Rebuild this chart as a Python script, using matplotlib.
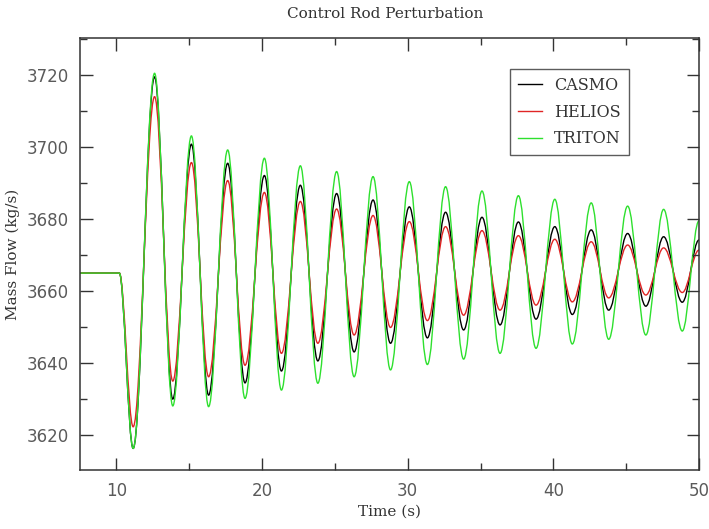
import matplotlib
matplotlib.use("Agg")
import matplotlib.pyplot as plt
from matplotlib.path import Path
from matplotlib.patches import PathPatch
from matplotlib.lines import Line2D
from matplotlib.ticker import MultipleLocator

# ---- data (turning points of each trace) ----
time_s = [7.5, 10.2, 11.15, 12.62, 13.87, 15.15, 16.33, 17.64, 18.83, 20.16,
          21.33, 22.63, 23.83, 25.12, 26.32, 27.62, 28.82, 30.11, 31.35, 32.6,
          33.84, 35.1, 36.34, 37.6, 38.81, 40.1, 41.3, 42.6, 43.8, 45.1,
          46.35, 47.57, 48.85, 50.0]

casmo = [3665, 3665, 3616.3, 3719.5, 3630.0, 3700.8, 3631.1, 3695.5, 3634.5, 3692.1,
         3637.8, 3689.4, 3640.6, 3687.1, 3643.1, 3685.3, 3645.5, 3683.4, 3647.0, 3681.9,
         3649.2, 3680.5, 3650.6, 3679.2, 3652.2, 3677.9, 3653.5, 3677.0, 3654.7, 3676.0,
         3655.8, 3675.1, 3656.9, 3674.2]

helios = [3665, 3665, 3622.3, 3714.0, 3635.0, 3695.7, 3636.2, 3690.7, 3639.4, 3687.4,
          3642.7, 3684.9, 3645.5, 3682.8, 3647.8, 3681.0, 3649.9, 3679.3, 3651.8, 3677.9,
          3653.3, 3676.8, 3654.7, 3675.4, 3656.1, 3674.4, 3657.0, 3673.7, 3658.1, 3672.8,
          3658.9, 3672.0, 3659.6, 3671.4]

triton = [3665, 3665, 3616.3, 3720.5, 3628.1, 3703.1, 3627.9, 3699.2, 3630.2, 3696.9,
          3632.5, 3694.8, 3634.4, 3693.2, 3636.2, 3691.8, 3638.1, 3690.4, 3639.6, 3689.0,
          3641.1, 3687.8, 3642.7, 3686.5, 3644.1, 3685.5, 3645.3, 3684.5, 3646.6, 3683.6,
          3647.8, 3682.7, 3648.9, 3679.5]

series_names = ["CASMO", "HELIOS", "TRITON"]
series_values = [casmo, helios, triton]
series_colors = ["#000000", "#e02525", "#2ee02e"]

x_limits = (7.5, 50)
y_limits = (3610.3, 3730.3)
x_ticks = [10, 20, 30, 40, 50]
y_ticks = [3620, 3640, 3660, 3680, 3700, 3720]

serif = "DejaVu Serif"


def smooth_path(xs, ys, k=0.363):
    """Bezier path through the turning points with flat tangents."""
    verts = [(xs[0], ys[0])]
    codes = [Path.MOVETO]
    for i in range(1, len(xs)):
        x0, y0 = xs[i - 1], ys[i - 1]
        x1, y1 = xs[i], ys[i]
        dx = x1 - x0
        verts += [(x0 + k * dx, y0), (x1 - k * dx, y1), (x1, y1)]
        codes += [Path.CURVE4] * 3
    return Path(verts, codes)


fig = plt.figure(figsize=(7.09, 5.29), dpi=100)
ax = fig.add_axes([80 / 709, 1 - 470 / 529, 619 / 709, 432 / 529])

handles = []
for name, vals, col in zip(series_names, series_values, series_colors):
    patch = PathPatch(smooth_path(time_s, vals), facecolor="none", edgecolor=col,
                      linewidth=1.0, transform=ax.transData)
    ax.add_patch(patch)
    handles.append(Line2D([], [], color=col, linewidth=1.0, label=name))

ax.set_xlim(*x_limits)
ax.set_ylim(*y_limits)
ax.set_xticks(x_ticks)
ax.set_yticks(y_ticks)
ax.xaxis.set_minor_locator(MultipleLocator(5))
ax.yaxis.set_minor_locator(MultipleLocator(10))

ax.tick_params(which="both", direction="in", top=True, right=True, color="#333333",
               width=1.0)
ax.tick_params(which="major", length=9, labelsize=12, labelcolor="#5a5a5a")
ax.tick_params(axis="x", which="major", pad=9)
ax.tick_params(axis="y", which="major", pad=8)
ax.tick_params(which="minor", length=5)
for sp in ax.spines.values():
    sp.set_color("#333333")
    sp.set_linewidth(1.1)

ax.set_xlabel("Time (s)", fontsize=11, family=serif, color="#333333", labelpad=3)
ax.set_ylabel("Mass Flow (kg/s)", fontsize=11, family=serif, color="#333333", labelpad=5)
fig.text(385 / 709, 1 - 14 / 529, "Control Rod Perturbation", ha="center", va="center",
         fontsize=11, family=serif, color="#333333")

leg = ax.legend(handles=handles, loc="upper right",
                bbox_to_anchor=((629 - 80) / 619, (470 - 69) / 432),
                borderaxespad=0, fancybox=False, frameon=True, handlelength=1.5,
                handletextpad=0.75, labelspacing=0.6, borderpad=0.5,
                prop={"family": serif, "size": 11.5})
leg.get_frame().set_edgecolor("#333333")
leg.get_frame().set_linewidth(1.0)
for txt in leg.get_texts():
    txt.set_color("#333333")

fig.savefig("out.png", dpi=100)
